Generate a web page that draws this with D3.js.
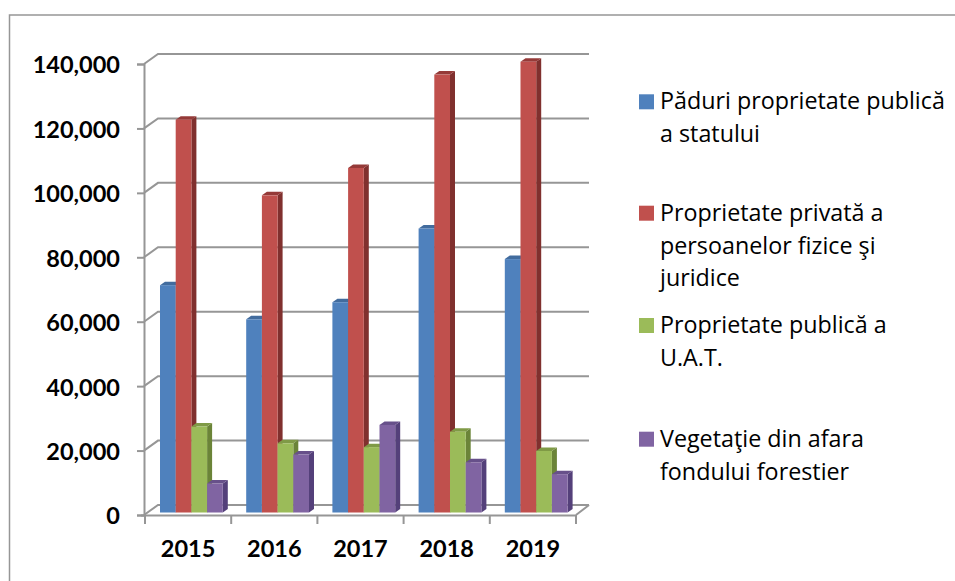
<!DOCTYPE html>
<html>
<head>
<meta charset="utf-8">
<script src="https://cdn.jsdelivr.net/npm/d3@7"></script>
<style>
html, body { margin: 0; padding: 0; background: #fff; }
svg { display: block; }
text { fill: #000; }
</style>
</head>
<body>
<div id="chart"></div>
<script>
const years = ["2015", "2016", "2017", "2018", "2019"];
const padurIStat = [70600, 60000, 65300, 88200, 78700];
const proprietatePrivata = [122000, 98500, 107000, 136000, 140000];
const proprietateUat = [26700, 21500, 20300, 25100, 19100];
const vegetatie = [9000, 18000, 27200, 15600, 11900];
const yTicks = [0, 20000, 40000, 60000, 80000, 100000, 120000, 140000];
const legendLines = [
    ["Păduri proprietate publică", "a statului"],
    ["Proprietate privată a", "persoanelor fizice şi", "juridice"],
    ["Proprietate publică a", "U.A.T."],
    ["Vegetaţie din afara", "fondului forestier"]
];

const allSeries = [padurIStat, proprietatePrivata, proprietateUat, vegetatie];
const fronts = ["#4f81bd", "#c0504d", "#9bbb59", "#8064a2"];
const sides = ["#3a6090", "#80302e", "#6b8438", "#54407a"];
const tops = ["#426c9e", "#953a38", "#7f9a46", "#67508a"];

const width = 955, height = 581;
const svg = d3.select("#chart").append("svg")
    .attr("width", width)
    .attr("height", height);

// frame, only top and left are visible in the picture
svg.append("path")
    .attr("d", "M9.5,581V15H955")
    .attr("fill", "none")
    .attr("stroke", "#969696")
    .attr("stroke-width", 1.5);

const y = d3.scaleLinear().domain([0, 140000]).range([515, 64]);
const x = d3.scaleBand().domain(years).range([145, 576]);
const depthX = 14, depthY = -10;
const gridColor = "#969696";

// back wall gridlines with the little slanted piece on the left
const grid = svg.append("g");
yTicks.forEach(t => {
    grid.append("path")
        .attr("d", `M${x.range()[0] - 1},${y(t)}l${depthX},${depthY}H${x.range()[1] + depthX - 1}`)
        .attr("fill", "none")
        .attr("stroke", gridColor)
        .attr("stroke-width", 2);
});
// floor right edge
grid.append("path")
    .attr("d", `M${x.range()[1]},${y(0)}l${depthX - 1},${depthY}`)
    .attr("fill", "none")
    .attr("stroke", gridColor)
    .attr("stroke-width", 2);

// bars, sit a bit inside the depth of the floor
const barBase = 512.5, barTop = 61.7;
const yBar = d3.scaleLinear().domain([0, 140000]).range([barBase, barTop]);
const inner = d3.scaleBand().domain(d3.range(4)).range([15, 15 + 15.7 * 4]);
const dx = 5, dy = -3.5;
const barWidth = inner.bandwidth();

years.forEach((yr, i) => {
    const g = svg.append("g").attr("transform", `translate(${x(yr)},0)`);
    allSeries.forEach((vals, s) => {
        const x0 = inner(s), x1 = x0 + barWidth;
        const y0 = yBar(vals[i]);
        g.append("path")
            .attr("d", `M${x1},${y0}l${dx},${dy}V${barBase + dy}l${-dx},${-dy}Z`)
            .attr("fill", sides[s]);
        g.append("path")
            .attr("d", `M${x0},${y0}l${dx},${dy}H${x1 + dx}l${-dx},${-dy}Z`)
            .attr("fill", tops[s]);
        g.append("rect")
            .attr("x", x0)
            .attr("y", y0)
            .attr("width", barWidth)
            .attr("height", barBase - y0)
            .attr("fill", fronts[s]);
    });
});

// axes
const yAxis = d3.axisLeft(y).tickValues(yTicks).tickFormat(d3.format(",")).tickSize(7).tickPadding(17);
const yG = svg.append("g").attr("transform", "translate(144,0)").call(yAxis);
yG.select(".domain").attr("stroke", gridColor).attr("stroke-width", 2);
yG.selectAll("line").attr("stroke", gridColor).attr("stroke-width", 2);
yG.selectAll("text")
    .attr("font-size", 23.5)
    .attr("font-weight", 700)
    .attr("dy", "0.38em")
    .style("font-family", "Lato");

const xG = svg.append("g").attr("transform", "translate(0,515)")
    .call(d3.axisBottom(x).tickSize(0).tickPadding(25));
xG.select(".domain").remove();
xG.selectAll("text")
    .attr("font-size", 23.5)
    .attr("font-weight", 700)
    .style("font-family", "Lato");

svg.append("line")
    .attr("x1", 141).attr("x2", 576).attr("y1", 515.5).attr("y2", 515.5)
    .attr("stroke", gridColor).attr("stroke-width", 2);
svg.selectAll(".xtick").data(d3.range(6)).enter().append("line")
    .attr("class", "xtick")
    .attr("x1", d => x.range()[0] + d * x.step())
    .attr("x2", d => x.range()[0] + d * x.step())
    .attr("y1", 515).attr("y2", 524)
    .attr("stroke", gridColor).attr("stroke-width", 2);

// legend
const legendBase = [109.3, 220.7, 333, 446.7];
legendLines.forEach((lines, s) => {
    svg.append("rect")
        .attr("x", 639).attr("y", legendBase[s] - 15)
        .attr("width", 15).attr("height", 15)
        .attr("fill", fronts[s]);
    lines.forEach((line, k) => {
        svg.append("text")
            .attr("x", 660)
            .attr("y", legendBase[s] + k * 32.8)
            .attr("font-size", 23.3)
            .style("font-family", "'Open Sans'")
            .text(line);
    });
});
</script>
</body>
</html>
